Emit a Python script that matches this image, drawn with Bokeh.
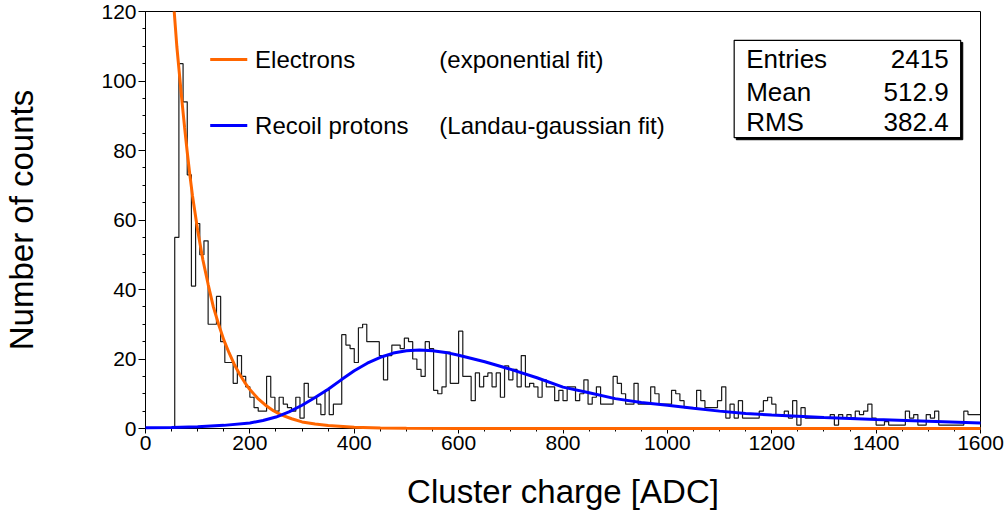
import numpy as np
from bokeh.plotting import figure
from bokeh.models import SingleIntervalTicker, Range1d
from bokeh.core.properties import value
from bokeh.embed import file_html
from bokeh.resources import INLINE

# ---------------- data ----------------
bin_start = 56
bin_width = 8
counts = [
    55, 105, 94, 73, 41, 59, 50, 54, 30, 30, 38, 25, 19, 19, 13, 21,      # 56..176
    15, 12, 9, 6, 5, 5, 15, 9, 5, 9, 7, 6, 5, 9, 3, 13,                   # 184..304
    9, 9, 7, 4, 11, 4, 7, 7, 27, 24, 23, 19, 29, 30, 25, 25,              # 312..432
    25, 21, 14, 21, 24, 24, 23, 26, 25, 20, 17, 15, 25, 23, 11, 10,       # 440..560
    12, 22, 13, 13, 28, 15, 15, 8, 16, 12, 15, 16, 12, 16, 9, 18,         # 568..688
    14, 17, 12, 21, 12, 13, 12, 9, 14, 12, 12, 8, 11, 8, 12, 12,          # 696..816
    8, 10, 14, 7, 9, 12, 7, 7, 7, 15, 13, 10, 7, 7, 13, 7,                # 824..944
    7, 7, 12, 10, 7, 7, 7, 11, 10, 8, 6, 6, 6, 11, 8, 6,                  # 952..1072
    6, 6, 8, 12, 3, 7, 3, 8, 3, 3, 3, 3, 5, 8, 9, 7,                      # 1080..1200
    4, 4, 5, 3, 8, 1, 6, 3, 3, 3, 3, 3, 3, 4, 1, 4,                       # 1208..1328
    3, 4, 3, 5, 4, 5, 7, 3, 1, 1, 2, 1, 1, 1, 1, 5,                       # 1336..1456
    3, 4, 1, 1, 4, 3, 5, 1, 1, 1, 1, 1, 1, 5, 4, 4, 4,                    # 1464..1592
]

exp_fit_x = [55, 60, 65, 70, 75, 80, 85, 90, 95, 100, 110, 120, 130, 140, 150,
             160, 170, 180, 190, 200, 215, 230, 245, 260, 280, 300, 325, 350, 400,
             450, 500, 600, 800, 1000, 1600]
exp_fit_y = [120, 110, 102, 94, 86.5, 79.5, 73, 67, 62, 57, 48.5, 41.5, 35, 30, 25.5,
             21.8, 18.5, 15.7, 13.3, 11.2, 8.7, 6.7, 5.1, 3.9, 2.8, 1.9, 1.3, 0.85, 0.37,
             0.16, 0.07, 0.02, 0, 0, 0]

lg_fit_x = [0, 50, 100, 150, 200, 225, 250, 275, 300, 325, 350, 375, 400, 425, 450, 475,
            500, 525, 550, 575, 600, 650, 700, 750, 800, 850, 900, 950, 1000, 1050, 1100,
            1150, 1200, 1300, 1400, 1500, 1600]
lg_fit_y = [0.2, 0.3, 0.5, 0.9, 1.6, 2.3, 3.3, 4.8, 6.7, 8.9, 11.3, 14.0, 16.6, 18.8, 20.5, 21.7,
            22.4, 22.6, 22.4, 21.9, 21.1, 19.2, 17.0, 14.6, 11.9, 10.3, 8.6, 7.5, 6.7, 5.8, 5.0,
            4.3, 3.9, 3.2, 2.6, 2.1, 1.6]

legend_labels = ["Electrons", "Recoil protons"]
legend_notes = ["(exponential fit)", "(Landau-gaussian fit)"]
stat_names = ["Entries", "Mean", "RMS"]
stat_values = ["2415", "512.9", "382.4"]

x_label = "Cluster charge [ADC]"
y_label = "Number of counts"

# ---------------- figure ----------------
FONT = "Liberation Sans"
p = figure(width=1008, height=518, output_backend="svg", toolbar_location=None,
           x_range=Range1d(0, 1600), y_range=Range1d(0, 120),
           min_border_left=143, min_border_right=28, min_border_top=11, min_border_bottom=90)
p.background_fill_color = "white"
p.border_fill_color = "white"
p.outline_line_color = "black"
p.outline_line_width = 1
p.grid.visible = False

p.xaxis.ticker = SingleIntervalTicker(interval=200, num_minor_ticks=4)
p.yaxis.ticker = SingleIntervalTicker(interval=20, num_minor_ticks=4)
for ax in (p.xaxis, p.yaxis):
    ax.axis_line_color = "black"
    ax.major_tick_line_color = "black"
    ax.minor_tick_line_color = "black"
    ax.major_label_text_font = FONT
    ax.major_label_text_font_size = "21px"
    ax.major_label_text_color = "black"
    ax.axis_label_text_font = FONT
    ax.axis_label_text_font_size = "33px"
    ax.axis_label_text_font_style = "normal"
    ax.axis_label_text_color = "black"
p.xaxis.major_tick_out = 5
p.xaxis.major_tick_in = 0
p.xaxis.minor_tick_out = 3
p.xaxis.minor_tick_in = 0
p.yaxis.major_tick_out = 7
p.yaxis.major_tick_in = 0
p.yaxis.minor_tick_out = 3
p.yaxis.minor_tick_in = 0
p.xaxis.major_label_standoff = 2
p.yaxis.major_label_standoff = 2
p.xaxis.axis_label = x_label
p.yaxis.axis_label = y_label
p.xaxis.axis_label_standoff = 20
p.yaxis.axis_label_standoff = 58

# histogram outline
edges = list(np.arange(len(counts) + 1) * bin_width + bin_start)
hx = [edges[0]] + edges
hy = [0] + counts + [counts[-1]]
p.step(hx, hy, mode="after", line_color="#1a1a1a", line_width=1.2)

# fits (drawn above the axes, as in the original)
p.line(exp_fit_x, exp_fit_y, line_color="#ff6600", line_width=3, level="overlay")
p.line(lg_fit_x, lg_fit_y, line_color="#0000ff", line_width=3, level="overlay")

# legend (drawn in data space)
leg_y = [106.2, 87.2]
leg_col = ["#ff6600", "#0000ff"]
for i in range(2):
    p.line([124, 195], [leg_y[i], leg_y[i]], line_color=leg_col[i], line_width=3)
p.text(x=[210, 210], y=leg_y, text=legend_labels, text_font=value(FONT),
       text_font_size="24px", text_baseline="middle", text_align="left", text_color="black")
p.text(x=[563, 563], y=leg_y, text=legend_notes, text_font=value(FONT),
       text_font_size="24px", text_baseline="middle", text_align="left", text_color="black")

# stats box
p.quad(left=[1132], right=[1566], top=[111.1], bottom=[83.1], fill_color="black", line_color="black")
p.quad(left=[1128], right=[1562], top=[111.7], bottom=[83.7], fill_color="white",
       line_color="black", line_width=1.2)
st_y = [106.4, 96.8, 88.1]
p.text(x=[1151] * 3, y=st_y, text=stat_names, text_font=value(FONT), text_font_size="26px",
       text_baseline="middle", text_align="left", text_color="black")
p.text(x=[1539] * 3, y=st_y, text=stat_values, text_font=value(FONT), text_font_size="26px",
       text_baseline="middle", text_align="right", text_color="black")

open("out.html", "w").write(file_html(p, INLINE))
